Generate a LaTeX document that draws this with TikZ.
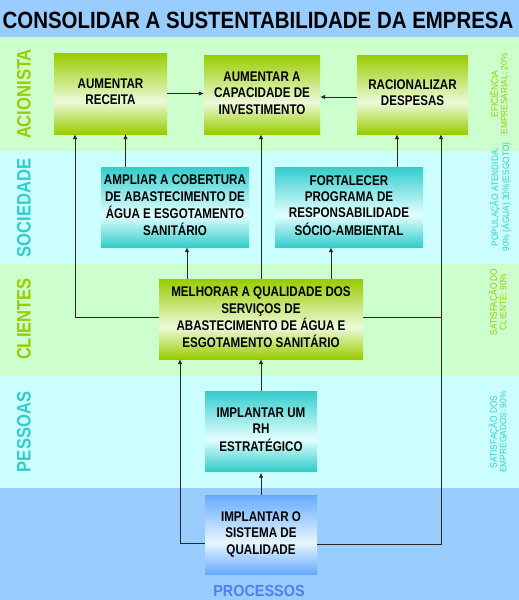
\documentclass[tikz,border=0pt]{standalone}
\usepackage{fontspec}
\setmainfont{Liberation Sans}
\usetikzlibrary{arrows.meta,calc}
\definecolor{bgblue}{RGB}{153,204,255}
\definecolor{bggreen}{RGB}{204,255,204}
\definecolor{bgcyan}{RGB}{204,255,255}
\definecolor{gdark}{RGB}{153,204,0}
\definecolor{glight}{RGB}{236,250,218}
\definecolor{cdark}{RGB}{51,204,204}
\definecolor{clight}{RGB}{228,255,255}
\definecolor{bdark}{RGB}{102,170,255}
\definecolor{blight}{RGB}{232,246,255}
\definecolor{labgreen}{RGB}{153,204,0}
\definecolor{labcyan}{RGB}{51,204,204}
\definecolor{procblue}{RGB}{80,128,240}
\definecolor{linec}{RGB}{40,40,40}
\pgfdeclareverticalshading{gshade}{100bp}{color(0bp)=(gdark); color(25bp)=(gdark); color(45bp)=(glight); color(75bp)=(gdark); color(100bp)=(gdark)}
\pgfdeclareverticalshading{cshade}{100bp}{color(0bp)=(cdark); color(25bp)=(cdark); color(45bp)=(clight); color(75bp)=(cdark); color(100bp)=(cdark)}
\pgfdeclareverticalshading{bshade}{100bp}{color(0bp)=(bdark); color(25bp)=(bdark); color(45bp)=(blight); color(75bp)=(bdark); color(100bp)=(bdark)}
\newcommand\boxtext[1]{\fontsize{14}{16.3}\selectfont\bfseries\scalebox{0.83}[1]{\begin{tabular}{@{}c@{}}#1\end{tabular}}}
\newcommand\rtext[1]{\fontsize{9.3}{9.5}\selectfont\scalebox{0.9}[1]{\begin{tabular}{@{}c@{}}#1\end{tabular}}}
\newcommand\ltext[1]{\fontsize{19.5}{20}\selectfont\bfseries\scalebox{0.85}[1]{#1}}
\tikzset{
  gbox/.style={shade, shading=gshade, inner sep=0pt},
  cbox/.style={shade, shading=cshade, inner sep=0pt},
  bbox/.style={shade, shading=bshade, inner sep=0pt},
  arr/.style={-{Latex[length=5pt,width=4.5pt]}, draw=linec, line width=0.8pt},
  ln/.style={draw=linec, line width=0.8pt},
  rlab/.style={rotate=90, inner sep=0pt},
  llab/.style={rotate=90, inner sep=0pt}
}
\begin{document}
\begin{tikzpicture}[x=1pt,y=-1pt]
\useasboundingbox (0,0) rectangle (519,600);
% bands
\fill[bgblue] (0,0) rectangle (519,37);
\fill[bggreen] (0,37) rectangle (519,151);
\fill[bgcyan] (0,151) rectangle (519,264);
\fill[bggreen] (0,264) rectangle (519,376);
\fill[bgcyan] (0,376) rectangle (519,488);
\fill[bgblue] (0,488) rectangle (519,600);
% title
\node[anchor=base, inner sep=0pt] (title) at (258,28) {\fontsize{23.5}{24}\selectfont\bfseries\scalebox{0.87}[1]{CONSOLIDAR A SUSTENTABILIDADE DA EMPRESA}};
% left labels
\node[llab, text=labgreen] (lacio) at (24,94) {\ltext{ACIONISTA}};
\node[llab, text=labcyan] (lsoc) at (24,208) {\ltext{SOCIEDADE}};
\node[llab, text=labgreen] (lcli) at (24,319) {\ltext{CLIENTES}};
\node[llab, text=labcyan] (lpes) at (24,432) {\ltext{PESSOAS}};
% right labels
\node[rlab, text=labgreen] (racio) at (500,94) {\rtext{EFICIÊNCIA\\EMPRESARIAL: 20\%}};
\node[rlab, text=labcyan] (rsoc) at (501,197) {\rtext{POPULAÇÃO ATENDIDA:\\90\% (ÁGUA) 30\%(ESGOTO)}};
\node[rlab, text=labgreen] (rcli) at (499,302) {\rtext{SATISFAÇÃO DO\\CLIENTE: 90\%}};
\node[rlab, text=labcyan] (rpes) at (499,432) {\rtext{SATISFAÇÃO DOS\\EMPREGADOS: 90\%}};
% bottom label
\node[inner sep=0pt, text=procblue] (proc) at (259,591) {\fontsize{16}{17}\selectfont\bfseries\scalebox{0.9}[1]{PROCESSOS}};
% boxes
\node[gbox, minimum width=113pt, minimum height=81pt] (ar) at (110.5,93.5) {\boxtext{AUMENTAR\\RECEITA}};
\node[gbox, minimum width=116pt, minimum height=79pt] (cap) at (262,94.5) {\boxtext{AUMENTAR A\\CAPACIDADE DE\\INVESTIMENTO}};
\node[gbox, minimum width=111pt, minimum height=79pt] (rd) at (412.5,94.5) {\boxtext{RACIONALIZAR\\DESPESAS}};
\node[cbox, minimum width=148pt, minimum height=80pt] (amp) at (175,207) {\boxtext{AMPLIAR A COBERTURA\\DE ABASTECIMENTO DE\\ÁGUA E ESGOTAMENTO\\SANITÁRIO}};
\node[cbox, minimum width=148pt, minimum height=80pt] (fort) at (349,207) {\boxtext{FORTALECER\\PROGRAMA DE\\RESPONSABILIDADE\\SÓCIO-AMBIENTAL}};
\node[gbox, minimum width=204pt, minimum height=80pt] (mel) at (261,319) {\boxtext{MELHORAR A QUALIDADE DOS\\SERVIÇOS DE\\ABASTECIMENTO DE ÁGUA E\\ESGOTAMENTO SANITÁRIO}};
\node[cbox, minimum width=112pt, minimum height=80pt] (rh) at (261,431) {\boxtext{IMPLANTAR UM\\RH\\ESTRATÉGICO}};
\node[bbox, minimum width=112pt, minimum height=79pt] (impo) at (261,534.5) {\boxtext{IMPLANTAR O\\SISTEMA DE\\QUALIDADE}};
% column coordinates
\coordinate (xL) at (75,0);
\coordinate (xA) at (125.5,0);
\coordinate (xF) at (397,0);
\coordinate (xR) at (441,0);
\coordinate (xM1) at (187,0);
\coordinate (xM2) at (331,0);
\coordinate (xP) at (180,0);
% connectors
\draw[arr] (ar.east) -- (cap.west |- ar.east);
\draw[arr] ([yshift=-2.5pt]rd.west) -- ([yshift=-2.5pt]cap.east);
\draw[arr] (amp.north -| xA) -- (ar.south -| xA);
\draw[arr] (fort.north -| xF) -- (rd.south -| xF);
\draw[arr] (mel.north -| xM1) -- (amp.south -| xM1);
\draw[arr] (mel.north -| xM2) -- (fort.south -| xM2);
\draw[arr] (mel.north) -- (mel.north |- cap.south);
\draw[arr] ([yshift=2pt]mel.west) -| (ar.south -| xL);
\draw[ln] ([yshift=2pt]mel.east) -- ([yshift=2pt]mel.east -| xR);
\draw[arr] ([yshift=-9.5pt]impo.east) -| (rd.south -| xR);
\draw[arr] ([yshift=-9pt]impo.west) -| (mel.south -| xP);
\draw[arr] (impo.north) -- ([yshift=-1.5pt]rh.south);
\draw[arr] (rh.north) -- (mel.south -| rh.north);
\end{tikzpicture}
\end{document}
